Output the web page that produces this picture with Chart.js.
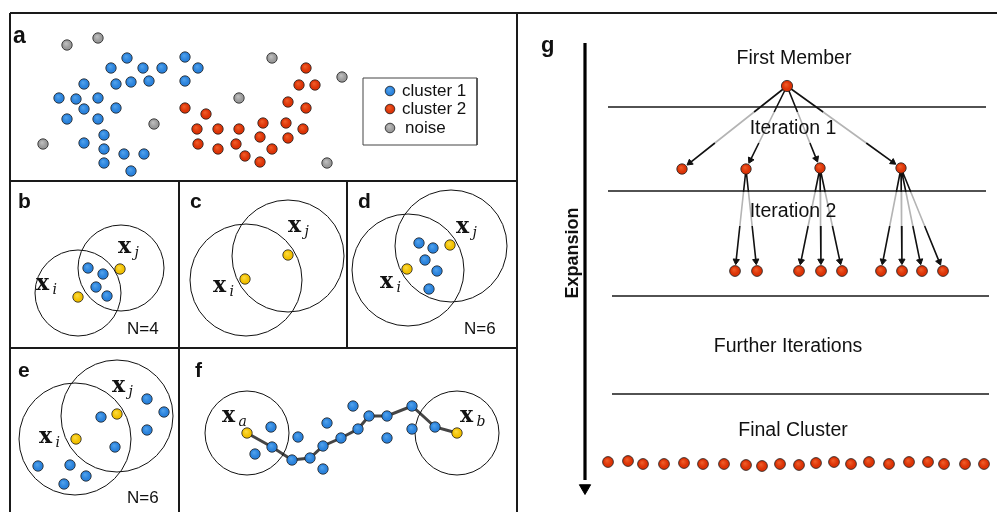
<!DOCTYPE html>
<html>
<head>
<meta charset="utf-8">
<script src="https://cdn.jsdelivr.net/npm/chart.js@4.4.0/dist/chart.umd.min.js"></script>
<style>
  body { margin: 0; background: #fff; }
  #wrap { width: 997px; height: 512px; position: relative; }
</style>
</head>
<body>
<div id="wrap"><canvas id="fig"></canvas></div>
<script>
// ---- panel a : toy data set ----
const blueA = [[127,58],[185,57],[111,68],[143,68],[162,68],[198,68],[84,84],[116,84],[131,82],[149,81],[185,81],
  [59,98],[76,99],[98,98],[84,109],[116,108],[67,119],[98,119],[104,135],[84,143],[104,149],[124,154],[144,154],[104,163],[131,171]];
const redA = [[306,68],[299,85],[315,85],[288,102],[306,108],[185,108],[206,114],[263,123],[286,123],[197,129],[218,129],
  [239,129],[303,129],[260,137],[288,138],[198,144],[218,149],[236,144],[272,149],[245,156],[260,162]];
const noiseA = [[67,45],[98,38],[272,58],[342,77],[239,98],[154,124],[43,144],[327,163]];
const legendNames = ['cluster 1', 'cluster 2', 'noise'];
const legendDots = [[390,91],[390,109],[390,128]];

// ---- panels b-f ----
const yellowPts = [[120,269],[78,297],[288,255],[245,279],[450,245],[407,269],[117,414],[76,439]];
const bluePts = [[88,268],[103,274],[96,287],[107,296],
  [419,243],[433,248],[425,260],[437,271],[429,289],
  [147,399],[164,412],[101,417],[147,430],[115,447],[38,466],[70,465],[86,476],[64,484],
  [271,427],[255,454],[298,437],[327,423],[353,406],[323,469],[387,438],[412,429]];
const pathF = [[247,433],[272,447],[292,460],[310,458],[323,446],[341,438],[358,429],[369,416],[387,416],[412,406],[435,427],[457,433]];
const circleCenters = [[78,293],[121,268],[246,280],[288,256],[408,270],[451,246],[75,439],[117,416],[247,433],[457,433]];
const circleRadii = [43,43,56,56,56,56,56,56,42,42];

// ---- panel g : expansion tree ----
const rootNode = [787,86];
const level1 = [[682,169],[746,169],[820,168],[901,168]];
const level2X = [735,757,799,821,842,881,902,922,943];
const level2Y = 271;
const level2Parent = [1,1,2,2,2,3,3,3,3];
const finalX = [608,628,643,664,684,703,724,746,762,780,799,816,834,851,869,889,909,928,944,965,984];
const finalY = [462,461,464,464,463,464,464,465,466,464,465,463,462,464,462,464,462,462,464,464,464];
const stageLines = [[608,986,107],[608,986,191],[612,989,296],[612,989,394]];
const stageNames = ['First Member','Iteration 1','Iteration 2','Further Iterations','Final Cluster'];

// panel frame
const frameSegs = [
  [[10,13],[997,13]], [[10,13],[10,512]], [[517,13],[517,512]],
  [[10,181],[517,181]], [[10,348],[517,348]],
  [[179,181],[179,512]], [[347,181],[347,348]]
];
const legendBox = [[363,78],[477,78],[477,145],[363,145],[363,78]];

const xy = a => a.map(p => ({x: p[0], y: p[1]}));
function segData(segs) {
  const out = [];
  segs.forEach(s => { s.forEach(p => out.push({x: p[0], y: p[1]})); out.push({x: NaN, y: NaN}); });
  return out;
}

// tree edges: black near parent, grey in the middle, black near child + arrow head
const blackSegs = [], greySegs = [], arrowPts = [], arrowRot = [];
function addEdge(p, c, y1, y2) {
  const dx = c[0] - p[0], dy = c[1] - p[1], L = Math.hypot(dx, dy);
  const at = yy => [p[0] + dx * (yy - p[1]) / dy, yy];
  const end = [c[0] - dx / L * 8, c[1] - dy / L * 8];
  blackSegs.push([p, at(y1)]);
  greySegs.push([at(y1), at(y2)]);
  blackSegs.push([at(y2), end]);
  arrowPts.push([c[0] - dx / L * 10, c[1] - dy / L * 10]);
  arrowRot.push(Math.atan2(dx, -dy) * 180 / Math.PI);
}
level1.forEach(c => addEdge(rootNode, c, 112, 143));
level2X.forEach((x, i) => addEdge(level1[level2Parent[i]], [x, level2Y], 192, 226));

const BLUE = ['#2a82dc', '#4fa0ea'], RED = ['#dc3306', '#ee5a26'], GREY = ['#9a9a9a', '#bdbdbd'],
  YELLOW = ['#f2c000', '#fbd93a'], EDGE = '#1d1d1d';

// slight shading like the original dots
function shade(col) {
  return c => {
    if (c.type !== 'data' || !c.parsed) return col[0];
    const sx = c.chart.scales.x, sy = c.chart.scales.y;
    if (!sx || !sy) return col[0];
    const px = sx.getPixelForValue(c.parsed.x), py = sy.getPixelForValue(c.parsed.y);
    if (!isFinite(px) || !isFinite(py)) return col[0];
    const g = c.chart.ctx.createRadialGradient(px - 1, py - 1.5, 0.5, px, py, 6);
    g.addColorStop(0, col[1]);
    g.addColorStop(0.6, col[0]);
    g.addColorStop(1, col[0]);
    return g;
  };
}
function dots(data, col, r) {
  return { data: xy(data), showLine: false, pointRadius: r || 5.2, pointBackgroundColor: shade(col),
    pointBorderColor: EDGE, pointBorderWidth: 0.8, order: 1, clip: false };
}
function lines(data, color, w, order) {
  return { data: data, showLine: true, pointRadius: 0, borderColor: color, borderWidth: w,
    spanGaps: false, order: order, clip: false };
}

const labels = [
  {t:'a', x:13, y:43, f:'bold 23px "Liberation Sans"'},
  {t:'b', x:18, y:208, f:'bold 21px "Liberation Sans"'},
  {t:'c', x:190, y:208, f:'bold 21px "Liberation Sans"'},
  {t:'d', x:358, y:208, f:'bold 21px "Liberation Sans"'},
  {t:'e', x:18, y:377, f:'bold 21px "Liberation Sans"'},
  {t:'f', x:195, y:377, f:'bold 21px "Liberation Sans"'},
  {t:'g', x:541, y:52, f:'bold 22px "Liberation Sans"'},
  {t:'N=4', x:127, y:334, f:'17px "Liberation Sans"'},
  {t:'N=6', x:464, y:334, f:'17px "Liberation Sans"'},
  {t:'N=6', x:127, y:503, f:'17px "Liberation Sans"'},
  {t:legendNames[0], x:402, y:96, f:'17px "Liberation Sans"'},
  {t:legendNames[1], x:402, y:114, f:'17px "Liberation Sans"'},
  {t:legendNames[2], x:405, y:133, f:'17px "Liberation Sans"'}
];
const stagePos = [[794,64],[793,134],[793,217],[788,352],[793,436]];
const mathLabels = [
  ['i',36,290],['j',118,253],['i',213,292],['j',288,232],['i',380,288],['j',456,233],
  ['i',39,443],['j',112,392],['a',222,422],['b',460,422]
];

const textPlugin = {
  id: 'texts',
  afterDatasetsDraw(chart) {
    const {ctx, scales: {x, y}} = chart;
    ctx.save();
    ctx.fillStyle = '#111';
    ctx.textBaseline = 'alphabetic';
    ctx.textAlign = 'left';
    labels.forEach(l => { ctx.font = l.f; ctx.fillText(l.t, x.getPixelForValue(l.x), y.getPixelForValue(l.y)); });
    ctx.textAlign = 'center';
    ctx.font = '19.5px "Liberation Sans"';
    stageNames.forEach((s, i) => ctx.fillText(s, x.getPixelForValue(stagePos[i][0]), y.getPixelForValue(stagePos[i][1])));
    ctx.textAlign = 'left';
    mathLabels.forEach(m => {
      const px = x.getPixelForValue(m[1]), py = y.getPixelForValue(m[2]);
      ctx.font = 'bold 22px "DejaVu Serif"';
      ctx.fillText('x', px, py);
      ctx.font = 'italic 14px "DejaVu Serif"';
      ctx.fillText(m[0], px + 16.5, py + 4);
    });
    // rotated axis label
    ctx.translate(x.getPixelForValue(578), y.getPixelForValue(253));
    ctx.rotate(-Math.PI / 2);
    ctx.textAlign = 'center';
    ctx.font = 'bold 18px "Liberation Sans"';
    ctx.fillText('Expansion', 0, 0);
    ctx.restore();
  }
};

new Chart(document.getElementById('fig'), {
  type: 'scatter',
  data: {
    datasets: [
      dots(yellowPts, YELLOW),
      dots(bluePts, BLUE),
      dots(pathF.slice(1, -1), BLUE),
      dots([pathF[0], pathF[pathF.length - 1]], YELLOW),
      dots(blueA, BLUE),
      dots(redA, RED),
      dots(noiseA, GREY),
      dots([legendDots[0]], BLUE, 4.8),
      dots([legendDots[1]], RED, 4.8),
      dots([legendDots[2]], GREY, 4.8),
      dots([rootNode], RED, 5.6),
      dots(level1, RED, 5.2),
      dots(level2X.map(v => [v, level2Y]), RED, 5.4),
      dots(finalX.map((v, i) => [v, finalY[i]]), RED, 5.4),
      { data: xy(circleCenters), showLine: false, pointRadius: circleRadii, pointBackgroundColor: 'rgba(0,0,0,0)',
        pointBorderColor: '#111', pointBorderWidth: 1, order: 3, clip: false },
      { data: xy(arrowPts), showLine: false, pointStyle: 'triangle', pointRadius: 3.6, pointRotation: arrowRot,
        pointBackgroundColor: '#111', pointBorderColor: '#111', pointBorderWidth: 1, order: 2, clip: false },
      { data: xy([[585, 488]]), showLine: false, pointStyle: 'triangle', pointRadius: 6.5, pointRotation: 180,
        pointBackgroundColor: '#000', pointBorderColor: '#000', pointBorderWidth: 1, order: 2, clip: false },
      lines(xy(pathF), '#454545', 3, 4),
      lines(segData(blackSegs), '#111', 1.6, 5),
      lines(segData(greySegs), '#b4b4b4', 1.6, 5),
      lines(segData(stageLines.map(s => [[s[0], s[2]], [s[1], s[2]]])), '#1a1a1a', 1.6, 6),
      lines(xy([[585, 43], [585, 480]]), '#000', 3.2, 6),
      lines(xy(legendBox), '#444', 1, 6),
      lines(segData(frameSegs), '#1a1a1a', 2, 7)
    ]
  },
  options: {
    responsive: true,
    maintainAspectRatio: false,
    animation: false,
    layout: { padding: 0, autoPadding: false },
    plugins: { legend: { display: false }, tooltip: { enabled: false } },
    scales: {
      x: { type: 'linear', min: 0, max: 997, display: false },
      y: { type: 'linear', min: 0, max: 512, reverse: true, display: false }
    }
  },
  plugins: [textPlugin]
});
</script>
</body>
</html>
